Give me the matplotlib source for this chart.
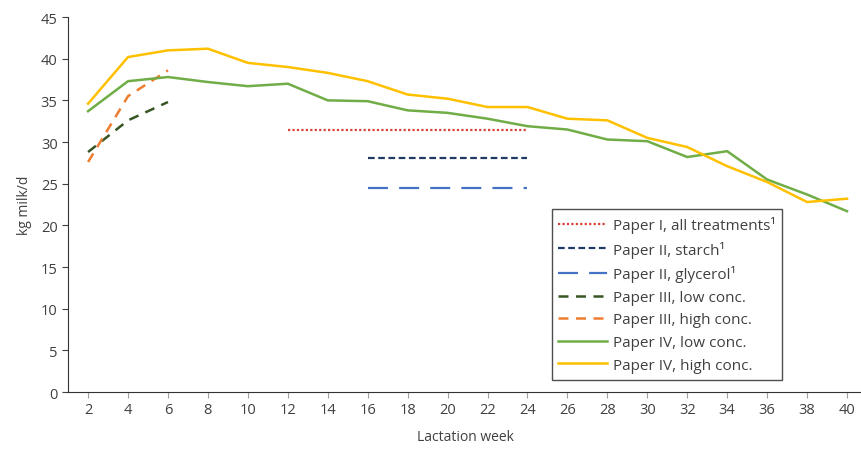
import matplotlib.pyplot as plt

# Lactation weeks and milk yield (kg/d)
weeks = [2, 4, 6, 8, 10, 12, 14, 16, 18, 20, 22, 24, 26, 28, 30, 32, 34, 36, 38, 40]
p4_high = [34.6, 40.2, 41.0, 41.2, 39.5, 39.0, 38.3, 37.3, 35.7, 35.2, 34.2, 34.2,
           32.8, 32.6, 30.5, 29.4, 27.1, 25.2, 22.8, 23.2]
p4_low = [33.7, 37.3, 37.8, 37.2, 36.7, 37.0, 35.0, 34.9, 33.8, 33.5, 32.8, 31.9,
          31.5, 30.3, 30.1, 28.2, 28.9, 25.5, 23.7, 21.7]

p3_weeks = [2, 4, 6]
p3_low = [28.8, 32.6, 34.8]
p3_high = [27.6, 35.5, 38.6]

p1_weeks = [12, 24]
p1_all = [31.5, 31.5]

p2_weeks = [16, 24]
p2_starch = [28.1, 28.1]
p2_glycerol = [24.5, 24.5]

plt.rcParams['font.family'] = ['Open Sans', 'DejaVu Sans']

fig = plt.figure(figsize=(8.62, 4.52), dpi=100)
ax = fig.add_axes([0.079, 0.1305, 0.921, 0.8296])

ax.plot(p1_weeks, p1_all, color='#D9413A', linewidth=1.6, linestyle=(0, (1, 1)),
        label='Paper I, all treatments\u00b9')
ax.plot(p2_weeks, p2_starch, color='#1F3864', linewidth=1.6, linestyle=(0, (3, 1.6)),
        label='Paper II, starch\u00b9')
ax.plot(p2_weeks, p2_glycerol, color='#4472C4', linewidth=1.6, linestyle=(0, (9, 5)),
        label='Paper II, glycerol\u00b9')
ax.plot(p3_weeks, p3_low, color='#375623', linewidth=1.8, linestyle=(0, (4, 3)),
        label='Paper III, low conc.')
ax.plot(p3_weeks, p3_high, color='#ED7D31', linewidth=1.8, linestyle=(0, (4, 3)),
        label='Paper III, high conc.')
ax.plot(weeks, p4_low, color='#70AD47', linewidth=1.8, label='Paper IV, low conc.')
ax.plot(weeks, p4_high, color='#FFC000', linewidth=1.8, label='Paper IV, high conc.')

ax.set_xlim(1, 40.75)
ax.set_ylim(0, 45)
ax.set_xticks(weeks)
ax.set_yticks(range(0, 46, 5))
ax.tick_params(axis='both', labelsize=10.5, colors='#404040', length=4)
ax.tick_params(axis='x', color='#A0A0A0')
ax.tick_params(axis='y', color='#404040')

for side in ['top', 'right']:
    ax.spines[side].set_visible(False)
ax.spines['left'].set_color('#333333')
ax.spines['bottom'].set_color('#333333')

ax.set_xlabel('Lactation week', fontsize=10, color='#404040', labelpad=8)
ax.set_ylabel('kg milk/d', fontsize=10, color='#404040', labelpad=6)

leg = ax.legend(loc='lower left', bbox_to_anchor=(0.609, 0.033), fontsize=11,
                frameon=True, fancybox=False, handlelength=3.2, borderpad=0.45,
                labelspacing=0.5, handletextpad=0.35, borderaxespad=0)
leg.get_frame().set_edgecolor('#222222')
leg.get_frame().set_linewidth(1.0)
for t in leg.get_texts():
    t.set_color('#404040')

plt.savefig('out.png', dpi=100)
